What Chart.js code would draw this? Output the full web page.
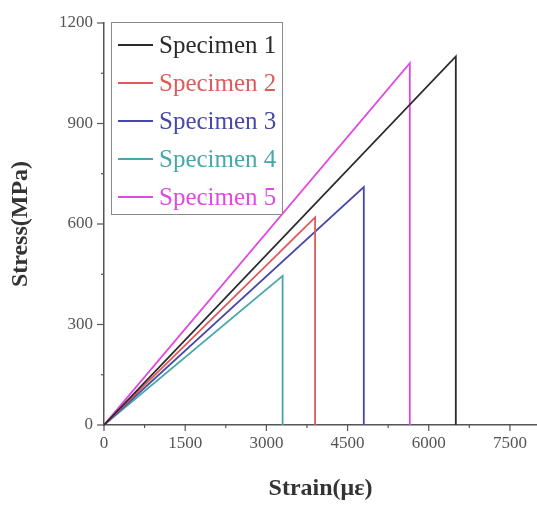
<!DOCTYPE html>
<html>
<head>
<meta charset="utf-8">
<script src="https://cdn.jsdelivr.net/npm/chart.js@4/dist/chart.umd.min.js"></script>
<style>
  html, body { margin: 0; padding: 0; background: #fff; }
  #wrap { width: 537px; height: 508px; }
</style>
</head>
<body>
<div id="wrap"><canvas id="myChart" width="537" height="508"></canvas></div>
<script>
// series data: strain (µε) and stress (MPa)
const names = ['Specimen 1', 'Specimen 2', 'Specimen 3', 'Specimen 4', 'Specimen 5']
const strain1 = [0, 6500, 6500]
const stress1 = [0, 1100, 0]
const strain2 = [0, 3900, 3900]
const stress2 = [0, 620, 0]
const strain3 = [0, 4800, 4800]
const stress3 = [0, 710, 0]
const strain4 = [0, 3300, 3300]
const stress4 = [0, 445, 0]
const strain5 = [0, 5650, 5650]
const stress5 = [0, 1080, 0]
const xTicks = [0, 1500, 3000, 4500, 6000, 7500]
const yTicks = [0, 300, 600, 900, 1200]

const colors = ['#2a2a2a', '#e05a5a', '#4848a8', '#46a8a8', '#e04ae0']
const serif = '"Liberation Serif", "DejaVu Serif", serif'

const pairs = [[strain1, stress1], [strain2, stress2], [strain3, stress3], [strain4, stress4], [strain5, stress5]]

const datasets = pairs.map((p, i) => ({
  label: names[i],
  data: p[0].map((x, j) => ({ x: x, y: p[1][j] })),
  showLine: true,
  borderColor: colors[i],
  backgroundColor: colors[i],
  borderWidth: 1.8,
  pointRadius: 0,
  tension: 0,
  fill: false,
}))

// minor + major tick marks, drawn outward from the axes
const tickMarks = {
  id: 'tickMarks',
  afterDraw(chart) {
    const ctx = chart.ctx
    const xs = chart.scales.x
    const ys = chart.scales.y
    const area = chart.chartArea
    ctx.save()
    ctx.strokeStyle = '#555'
    ctx.lineWidth = 1.2
    for (let v = 0; v <= 8000; v += 750) {
      const px = xs.getPixelForValue(v)
      const len = v % 1500 === 0 ? 6 : 3
      ctx.beginPath()
      ctx.moveTo(px, area.bottom)
      ctx.lineTo(px, area.bottom + len)
      ctx.stroke()
    }
    for (let v = 0; v <= 1200; v += 150) {
      const py = ys.getPixelForValue(v)
      const len = v % 300 === 0 ? 7 : 3
      ctx.beginPath()
      ctx.moveTo(area.left, py)
      ctx.lineTo(area.left - len, py)
      ctx.stroke()
    }
    ctx.restore()
  }
}

// legend box inside the plot area
const boxLegend = {
  id: 'boxLegend',
  afterDraw(chart) {
    const ctx = chart.ctx
    const left = 111, top = 22, w = 171, h = 192
    ctx.save()
    ctx.strokeStyle = '#8a8a8a'
    ctx.lineWidth = 1
    ctx.strokeRect(left + 0.5, top + 0.5, w, h)
    ctx.font = '25px ' + serif
    ctx.textBaseline = 'middle'
    chart.data.datasets.forEach((ds, i) => {
      const y = 45 + i * 38
      ctx.strokeStyle = ds.borderColor
      ctx.lineWidth = 1.8
      ctx.beginPath()
      ctx.moveTo(118, y)
      ctx.lineTo(153, y)
      ctx.stroke()
      ctx.fillStyle = ds.borderColor
      ctx.fillText(ds.label, 159, y + 1)
    })
    ctx.restore()
  }
}

new Chart(document.getElementById('myChart').getContext('2d'), {
  type: 'scatter',
  data: { datasets: datasets },
  options: {
    responsive: false,
    animation: false,
    layout: { padding: { top: 23, right: 0, left: 0, bottom: 0 } },
    plugins: { legend: { display: false }, tooltip: { enabled: false } },
    scales: {
      x: {
        type: 'linear',
        min: 0,
        max: 8000,
        afterBuildTicks: (s) => { s.ticks = xTicks.map(v => ({ value: v })) },
        afterFit: (s) => { s.height = 83 },
        grid: { display: false, drawTicks: false },
        border: { display: true, color: '#555', width: 1.5 },
        ticks: { padding: 8, color: '#555', font: { family: serif, size: 17 }, maxRotation: 0, callback: (v) => String(v) },
        title: { display: true, text: 'Strain(με)', color: '#333', font: { family: serif, size: 24, weight: 'bold' }, padding: { bottom: 5 } },
      },
      y: {
        type: 'linear',
        min: 0,
        max: 1200,
        afterBuildTicks: (s) => { s.ticks = yTicks.map(v => ({ value: v })) },
        afterFit: (s) => { s.width = 104 },
        grid: { display: false, drawTicks: false },
        border: { display: true, color: '#555', width: 1.5 },
        ticks: { padding: 11, color: '#555', font: { family: serif, size: 17 }, callback: (v) => String(v) },
        title: { display: true, text: 'Stress(MPa)', color: '#333', font: { family: serif, size: 24, weight: 'bold' }, padding: { top: 6 } },
      },
    },
  },
  plugins: [tickMarks, boxLegend],
})
</script>
</body>
</html>
